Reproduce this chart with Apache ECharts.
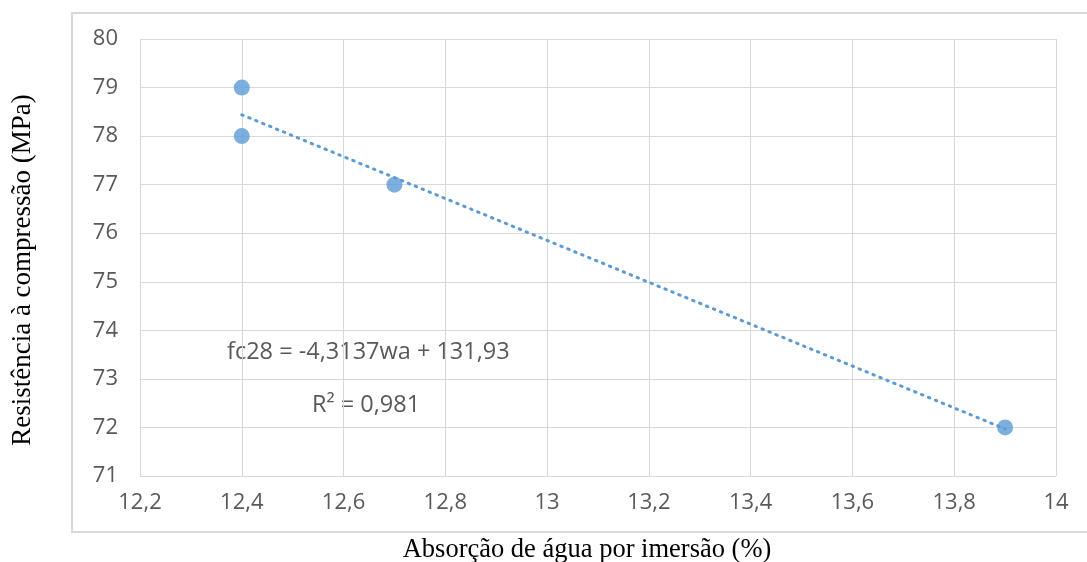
<!DOCTYPE html>
<html>
<head>
<meta charset="utf-8">
<script src="https://cdn.jsdelivr.net/npm/echarts@6/dist/echarts.min.js"></script>
<style>html,body{margin:0;padding:0;background:#fff}#c{width:1087px;height:562px}</style>
</head>
<body>
<div id="c"></div>
<script>
const absorption = [12.4, 12.4, 12.7, 13.9];
const strength = [79, 78, 77, 72];
const trendX = [12.4, 13.9];
const trendY = [78.44, 71.97];
const equationText = 'fc28 = -4,3137wa + 131,93';
const r2Text = 'R² = 0,981';
const xTitle = 'Absorção de água por imersão (%)';
const yTitle = 'Resistência à compressão (MPa)';

const chart = echarts.init(document.getElementById('c'));
const tickFont = {color: '#595959', fontSize: 22, fontFamily: 'Open Sans'};
chart.setOption({
  animation: false,
  grid: {left: 140, right: 31, top: 39, bottom: 86},
  xAxis: {
    type: 'value', min: 12.2, max: 14, interval: 0.2,
    axisLine: {show: false}, axisTick: {show: false},
    splitLine: {lineStyle: {color: '#d9d9d9', width: 1}},
    axisLabel: Object.assign({margin: 16, formatter: v => String(+v.toFixed(1)).replace('.', ',')}, tickFont)
  },
  yAxis: {
    type: 'value', min: 71, max: 80, interval: 1,
    axisLine: {show: false}, axisTick: {show: false},
    splitLine: {lineStyle: {color: '#d9d9d9', width: 1}},
    axisLabel: Object.assign({margin: 22}, tickFont)
  },
  series: [
    {
      type: 'line', data: trendX.map((x, i) => [x, trendY[i]]),
      showSymbol: false, symbol: 'none',
      lineStyle: {color: '#5B9BD5', width: 3, type: [1.5, 6], cap: 'round'},
      z: 2
    },
    {
      type: 'scatter', data: absorption.map((x, i) => [x, strength[i]]),
      symbolSize: 16, itemStyle: {color: '#5B9BD5'}, z: 3
    }
  ],
  graphic: [
    {type: 'rect', shape: {x: 72, y: 13, width: 1030, height: 519}, style: {fill: 'none', stroke: '#d9d9d9', lineWidth: 2}, silent: true},
    {type: 'text', x: 227, y: 352, style: {text: equationText, fill: '#595959', font: '23.5px "Open Sans"', align: 'left', verticalAlign: 'middle'}},
    {type: 'text', x: 312, y: 405, style: {text: r2Text, fill: '#595959', font: '23.5px "Open Sans"', align: 'left', verticalAlign: 'middle'}},
    {type: 'text', x: 587, y: 550, style: {text: xTitle, fill: '#000', font: '26.5px "Liberation Serif"', align: 'center', verticalAlign: 'middle'}},
    {type: 'text', x: 23, y: 270, rotation: Math.PI / 2, style: {text: yTitle, fill: '#000', font: '27px "Liberation Serif"', align: 'center', verticalAlign: 'middle'}}
  ]
});
</script>
</body>
</html>
